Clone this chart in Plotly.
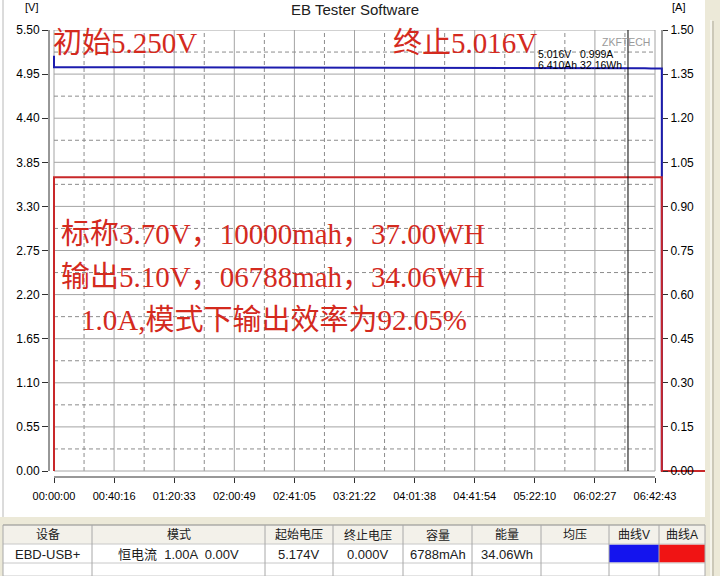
import plotly.graph_objects as go

# ---------------- data ----------------
x_tick_labels = ["00:00:00", "00:40:16", "01:20:33", "02:00:49", "02:41:05", "03:21:22",
                 "04:01:38", "04:41:54", "05:22:10", "06:02:27", "06:42:43"]
v_tick_labels = ["0.00", "0.55", "1.10", "1.65", "2.20", "2.75", "3.30", "3.85", "4.40", "4.95", "5.50"]
a_tick_labels = ["0.00", "0.15", "0.30", "0.45", "0.60", "0.75", "0.90", "1.05", "1.20", "1.35", "1.50"]

voltage_time = ["00:00:00", "00:00:00", "01:00:00", "02:00:00", "03:00:00", "04:00:00",
                "05:00:00", "06:00:00", "06:24:00", "06:30:00", "06:36:00", "06:40:00",
                "06:47:17", "06:47:17"]
voltage_values = [5.18, 5.036, 5.035, 5.034, 5.032, 5.031, 5.029, 5.027, 5.025, 5.021,
                  5.024, 5.019, 5.020, 0.0]

current_time = ["00:00:00", "00:00:00", "06:47:17", "06:47:17", "07:20:00"]
current_values = [0.0, 0.999, 0.999, 0.0, 0.0]

cursor_time = "06:24:37"

title_text = "EB Tester Software"
note_start = "初始5.250V"
note_end = "终止5.016V"
note_lines = ["标称3.70V，10000mah，37.00WH",
              "输出5.10V，06788mah，34.06WH",
              "1.0A,模式下输出效率为92.05%"]
readout_lines = ["5.016V   0.999A", "6.410Ah 32.16Wh"]
brand = "ZKFTECH"

table_headers = ["设备", "模式", "起始电压", "终止电压", "容量", "能量", "均压", "曲线V", "曲线A"]
table_values = ["EBD-USB+", "恒电流  1.00A  0.00V", "5.174V", "0.000V", "6788mAh", "34.06Wh", "", "", ""]


def secs(s):
    h, m, x = s.split(":")
    return int(h) * 3600 + int(m) * 60 + int(x)


x_ticks = [secs(s) for s in x_tick_labels]
v_ticks = [float(s) for s in v_tick_labels]
a_ticks = [float(s) for s in a_tick_labels]

# ---------------- layout geometry (pixels) ----------------
W, H = 720, 576
L, R, T, B = 49, 705, 30, 477
ZERO_Y = 471
x0_px, xend_px = 54, 655

sec_per_px = x_ticks[-1] / (xend_px - x0_px)
x_range = [(L - x0_px) * sec_per_px, (R - x0_px) * sec_per_px]
v_per_px = v_ticks[-1] / (ZERO_Y - T)
y_range = [-(B - ZERO_Y) * v_per_px, v_ticks[-1]]
a_per_px = a_ticks[-1] / (ZERO_Y - T)
y2_range = [-(B - ZERO_Y) * a_per_px, a_ticks[-1]]


def px(x):
    return (x - L) / (R - L)


def py(y):
    return (B - y) / (B - T)


BLUE = "#1c1cae"
RED = "#c8282a"
NOTE_RED = "#d42a1e"
GRID = "#a4a4a4"
DASH = "#8c8c8c"
FACE = "#ece9d8"

fig = go.Figure()
fig.add_trace(go.Scatter(x=[secs(t) for t in voltage_time], y=voltage_values, mode="lines",
                         line=dict(color=BLUE, width=2), yaxis="y", hoverinfo="skip"))
fig.add_trace(go.Scatter(x=[secs(t) for t in current_time], y=current_values, mode="lines",
                         line=dict(color=RED, width=2), yaxis="y2", hoverinfo="skip"))

shapes = []
# grid lines
for i, t in enumerate(x_ticks):
    shapes.append(dict(type="line", xref="x", yref="y", x0=t, x1=t, y0=0, y1=v_ticks[-1],
                       line=dict(color=GRID, width=1), layer="below"))
    if i < len(x_ticks) - 1:
        m = (t + x_ticks[i + 1]) / 2
        shapes.append(dict(type="line", xref="x", yref="y", x0=m, x1=m, y0=0, y1=v_ticks[-1],
                           line=dict(color=DASH, width=1, dash="4px,3px"), layer="below"))
for i, v in enumerate(v_ticks):
    shapes.append(dict(type="line", xref="x", yref="y", x0=0, x1=x_ticks[-1], y0=v, y1=v,
                       line=dict(color=GRID, width=1), layer="below"))
    if i < len(v_ticks) - 1:
        m = (v + v_ticks[i + 1]) / 2
        shapes.append(dict(type="line", xref="x", yref="y", x0=0, x1=x_ticks[-1], y0=m, y1=m,
                           line=dict(color=DASH, width=1, dash="4px,3px"), layer="below"))
# cursor line
ct = secs(cursor_time)
shapes.append(dict(type="line", xref="x", yref="y", x0=ct, x1=ct, y0=0, y1=v_ticks[-1],
                   line=dict(color="black", width=1), layer="above"))
# axis lines
shapes.append(dict(type="line", xref="paper", yref="y", x0=0, x1=0, y0=0, y1=v_ticks[-1],
                   line=dict(color="#303030", width=1)))
shapes.append(dict(type="line", xref="x", yref="paper", x0=0, x1=x_ticks[-1], y0=0, y1=0,
                   line=dict(color="#303030", width=1)))
shapes.append(dict(type="line", xref="paper", yref="y2", x0=px(662), x1=px(662), y0=0, y1=a_ticks[-1],
                   line=dict(color="#303030", width=1), layer="below"))

# window chrome: left border, right strip, bottom table
shapes.append(dict(type="line", xref="paper", yref="paper", x0=px(3), x1=px(3), y0=py(0), y1=py(525),
                   line=dict(color="#b8b8b8", width=1)))
shapes.append(dict(type="rect", xref="paper", yref="paper", x0=px(705), x1=px(721), y0=py(-1), y1=py(577),
                   fillcolor=FACE, line=dict(width=0)))
shapes.append(dict(type="line", xref="paper", yref="paper", x0=px(711), x1=px(711), y0=py(20), y1=py(577),
                   line=dict(color="white", width=1)))
shapes.append(dict(type="line", xref="paper", yref="paper", x0=px(713), x1=px(713), y0=py(21), y1=py(577),
                   line=dict(color="#aca899", width=1)))
shapes.append(dict(type="rect", xref="paper", yref="paper", x0=px(-1), x1=px(705), y0=py(517), y1=py(577),
                   fillcolor=FACE, line=dict(width=0)))
col_edges = [3, 92, 265, 333, 403, 472, 541, 609, 659, 705]
row_edges = [525, 544, 563, 576]
shapes.append(dict(type="rect", xref="paper", yref="paper", x0=px(3), x1=px(705), y0=py(row_edges[0]), y1=py(row_edges[1]),
                   fillcolor="#f3f1ea", line=dict(width=0)))
shapes.append(dict(type="rect", xref="paper", yref="paper", x0=px(3), x1=px(705), y0=py(row_edges[1]), y1=py(577),
                   fillcolor="white", line=dict(width=0)))
shapes.append(dict(type="rect", xref="paper", yref="paper", x0=px(609), x1=px(659), y0=py(544.5), y1=py(562.5),
                   fillcolor="#1414ee", line=dict(width=0)))
shapes.append(dict(type="rect", xref="paper", yref="paper", x0=px(659), x1=px(705), y0=py(544.5), y1=py(562.5),
                   fillcolor="#f01414", line=dict(width=0)))
for yy in row_edges:
    shapes.append(dict(type="line", xref="paper", yref="paper", x0=px(3), x1=px(705), y0=py(yy), y1=py(yy),
                       line=dict(color="#8a8a8a" if yy == row_edges[0] else "#c8c8c8", width=1)))
for xx in col_edges:
    shapes.append(dict(type="line", xref="paper", yref="paper", x0=px(xx), x1=px(xx), y0=py(525), y1=py(577),
                       line=dict(color="#a8a8a8", width=1)))

ann = []
CJK_SERIF = "Liberation Serif, Noto Sans CJK SC, serif"
SANS = "Liberation Sans, Arial, sans-serif"
TABLE_FONT = "Liberation Sans, Noto Sans CJK SC, sans-serif"


def text(x, y, s, size, color="black", family=SANS, xanchor="left"):
    ann.append(dict(xref="paper", yref="paper", x=px(x), y=py(y), text=s, showarrow=False,
                    xanchor=xanchor, yanchor="middle", borderpad=0,
                    font=dict(size=size, color=color, family=family)))


text(355, 10, title_text, 15, "#202020", xanchor="center")
text(31, 7, "[V]", 11, xanchor="center")
text(678, 7, "[A]", 11, xanchor="center")
text(52, 43, note_start, 29, NOTE_RED, CJK_SERIF)
text(392, 43, note_end, 29, NOTE_RED, CJK_SERIF)
text(60, 234, note_lines[0], 29, NOTE_RED, CJK_SERIF)
text(60, 277, note_lines[1], 29, NOTE_RED, CJK_SERIF)
text(80, 320, note_lines[2], 29, NOTE_RED, CJK_SERIF)
text(537, 54, readout_lines[0], 10.5)
text(537, 65, readout_lines[1], 10.5)
text(601, 42, brand, 10.5, "#9a9a9a")
for i in range(len(table_headers)):
    cx = (col_edges[i] + col_edges[i + 1]) / 2
    text(cx, 535, table_headers[i], 12, "#202020", TABLE_FONT, "center")
    if table_values[i]:
        text(cx, 554, table_values[i], 13, "#202020", TABLE_FONT, "center")

fig.update_layout(
    width=W, height=H,
    margin=dict(l=L, r=W - R, t=T, b=H - B, pad=0),
    paper_bgcolor="white", plot_bgcolor="rgba(0,0,0,0)",
    showlegend=False, hovermode=False,
    shapes=shapes, annotations=ann,
    xaxis=dict(range=x_range, tickvals=x_ticks, ticktext=x_tick_labels, ticks="outside", ticklen=5,
               tickcolor="#303030", showgrid=False, zeroline=False, showline=False,
               tickfont=dict(family=SANS, size=11, color="black"), ticklabelstandoff=4),
    yaxis=dict(range=y_range, tickvals=v_ticks, ticktext=v_tick_labels, ticks="outside", ticklen=6,
               tickcolor="#303030", showgrid=False, zeroline=False, showline=False,
               tickfont=dict(family=SANS, size=12, color="black")),
    yaxis2=dict(range=y2_range, tickvals=a_ticks, ticktext=a_tick_labels, ticks="outside", ticklen=5,
                tickcolor="#303030", showgrid=False, zeroline=False, showline=False,
                overlaying="y", anchor="free", position=px(662), side="right",
                tickfont=dict(family=SANS, size=12, color="black")),
)

fig.write_html("out.html", config={"displayModeBar": False},
               post_script="document.body.style.margin='0';document.body.style.overflow='hidden';")
